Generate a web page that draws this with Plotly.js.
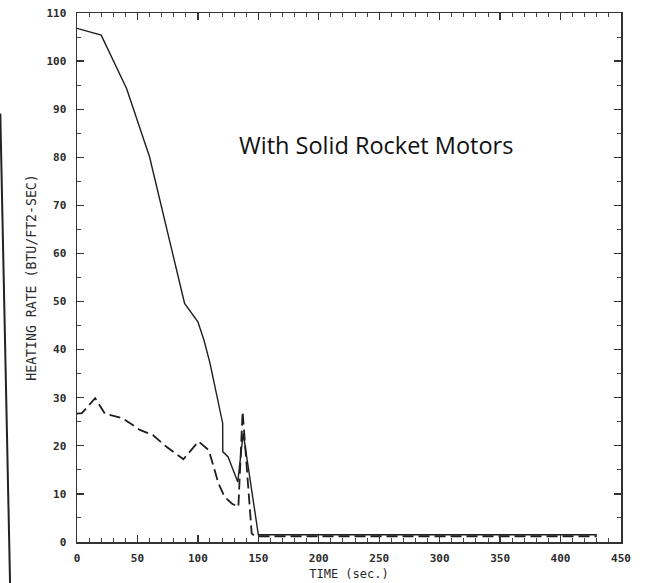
<!DOCTYPE html>
<html>
<head>
<meta charset="utf-8">
<script src="https://cdn.plot.ly/plotly-3.0.1.min.js"></script>
<style>
  html, body { margin: 0; padding: 0; background: #fff; }
  #chart { width: 646px; height: 583px; }
</style>
</head>
<body>
<div id="chart"></div>
<script>
// Time (sec.) and heating rate (BTU/FT2-SEC)
const solidTime = [0, 20, 41, 60, 89, 100, 105, 110, 120.5, 120.6, 125, 130.5, 133, 137.5, 150, 430];
const solidRate = [106.8, 105.4, 94.3, 80.1, 49.6, 45.8, 42, 37.2, 24.7, 18.8, 17.7, 14.3, 12.5, 22.6, 1.5, 1.5];

const dashTime = [0, 4, 15, 23, 38, 52, 63, 74, 87, 88, 100.5, 109, 117, 122, 128, 133.5, 137, 144.5, 147, 430];
const dashRate = [26.7, 26.8, 29.9, 26.7, 25.7, 23.3, 22.2, 19.8, 17.4, 17.2, 20.9, 19.1, 12.2, 9.4, 8.0, 7.3, 27.1, 1.8, 1.2, 1.2];

const xTickVals = [0, 50, 100, 150, 200, 250, 300, 350, 400, 450];
const yTickVals = [0, 10, 20, 30, 40, 50, 60, 70, 80, 90, 100, 110];

const xTitle = 'TIME (sec.)';
const yTitle = 'HEATING RATE (BTU/FT2-SEC)';
const noteText = 'With Solid Rocket Motors';

const tickFont = { family: 'DejaVu Sans Mono', size: 11, color: '#2a2a2a', weight: 'bold' };
const xTitleFont = { family: 'DejaVu Sans Mono', size: 12, color: '#2a2a2a' };
const yTitleFont = { family: 'DejaVu Sans Mono', size: 13.2, color: '#2a2a2a' };

const traces = [
  {
    x: solidTime, y: solidRate, type: 'scatter', mode: 'lines',
    line: { color: '#1e1e1e', width: 1.4 }, showlegend: false, hoverinfo: 'skip'
  },
  {
    x: dashTime, y: dashRate, type: 'scatter', mode: 'lines',
    line: { color: '#1e1e1e', width: 1.8, dash: '11px,5px' }, showlegend: false, hoverinfo: 'skip'
  }
];

const layout = {
  width: 646, height: 583,
  margin: { l: 77, r: 25, t: 13, b: 41 },
  paper_bgcolor: '#ffffff', plot_bgcolor: '#ffffff',
  showlegend: false,
  xaxis: {
    range: [0, 450], tickvals: xTickVals, ticktext: xTickVals.map(String),
    ticks: 'inside', ticklen: 7, tickwidth: 1.3, tickcolor: '#333',
    minor: { dtick: 10, ticks: 'inside', ticklen: 4, tickwidth: 1, tickcolor: '#444' },
    showline: true, linecolor: '#333', linewidth: 1.5, mirror: 'ticks',
    showgrid: false, zeroline: false, ticklabelstandoff: 5,
    tickfont: tickFont,
    title: { text: xTitle, font: xTitleFont, standoff: 6 }
  },
  yaxis: {
    range: [0, 110], tickvals: yTickVals, ticktext: yTickVals.map(String),
    ticks: 'inside', ticklen: 7, tickwidth: 1.3, tickcolor: '#333',
    minor: { dtick: 5, ticks: 'inside', ticklen: 4, tickwidth: 1, tickcolor: '#444' },
    showline: true, linecolor: '#333', linewidth: 1.5, mirror: 'ticks',
    showgrid: false, zeroline: false, ticklabelstandoff: 7,
    tickfont: tickFont,
    title: { text: yTitle, font: yTitleFont, standoff: 7 }
  },
  annotations: [
    {
      text: noteText, xref: 'x', yref: 'y', x: 247, y: 82.5,
      showarrow: false, font: { family: 'Open Sans', size: 23.5, color: '#111' }
    }
  ],
  shapes: [
    {
      type: 'line', xref: 'paper', yref: 'paper',
      x0: -0.141, y0: 0.81, x1: -0.123, y1: -0.08,
      line: { color: '#222', width: 2 }
    }
  ]
};

Plotly.newPlot('chart', traces, layout, { staticPlot: true, displayModeBar: false });
</script>
</body>
</html>
